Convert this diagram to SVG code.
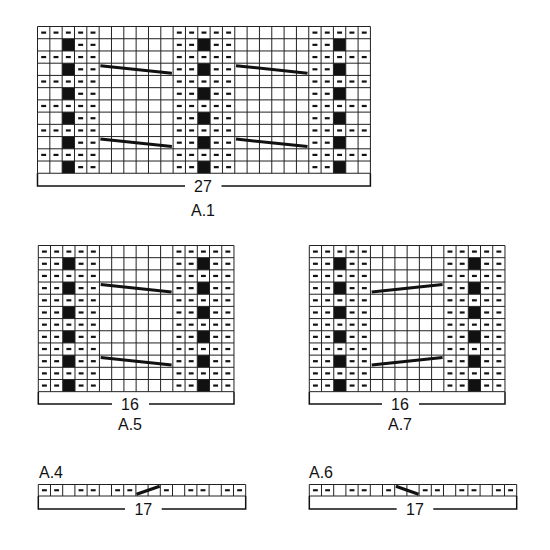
<svg xmlns="http://www.w3.org/2000/svg" width="550" height="550" viewBox="0 0 550 550">
<style>
.g{fill:none;stroke:#222;stroke-width:1}
.c{stroke:#111;stroke-width:3;stroke-linecap:butt}
.b{fill:none;stroke:#111;stroke-width:1.5}
text{font-family:"Liberation Sans",Arial,sans-serif;font-size:16px;fill:#111}
.m{text-anchor:middle}
</style>
<defs>
<rect id="d" x="0.3" y="0.41" width="0.4" height="0.18" fill="#111"/>
<rect id="k" width="1" height="1" fill="#111"/>
<g id="p5"><use href="#d"/><use href="#d" x="1"/><use href="#d" x="2"/><use href="#d" x="3"/><use href="#d" x="4"/></g>
<g id="pm"><use href="#d"/><use href="#d" x="1"/><use href="#k" x="2"/><use href="#d" x="3"/><use href="#d" x="4"/></g>
<g id="r1d"><use href="#p5"/><use href="#p5" x="11"/><use href="#p5" x="22"/></g>
<g id="r1b"><use href="#k" x="2"/><use href="#d" x="3"/><use href="#d" x="4"/><use href="#pm" x="11"/><use href="#d" x="22"/><use href="#d" x="23"/><use href="#k" x="24"/></g>
<g id="r5d"><use href="#p5"/><use href="#p5" x="11"/></g>
<g id="r5b"><use href="#pm"/><use href="#pm" x="11"/></g>
<path id="g27" class="g" vector-effect="non-scaling-stroke" d="M0 0V12M1 0V12M2 0V12M3 0V12M4 0V12M5 0V12M6 0V12M7 0V12M8 0V12M9 0V12M10 0V12M11 0V12M12 0V12M13 0V12M14 0V12M15 0V12M16 0V12M17 0V12M18 0V12M19 0V12M20 0V12M21 0V12M22 0V12M23 0V12M24 0V12M25 0V12M26 0V12M27 0V12M0 0H27M0 1H27M0 2H27M0 3H27M0 4H27M0 5H27M0 6H27M0 7H27M0 8H27M0 9H27M0 10H27M0 11H27M0 12H27"/>
<path id="g16" class="g" vector-effect="non-scaling-stroke" d="M0 0V12M1 0V12M2 0V12M3 0V12M4 0V12M5 0V12M6 0V12M7 0V12M8 0V12M9 0V12M10 0V12M11 0V12M12 0V12M13 0V12M14 0V12M15 0V12M16 0V12M0 0H16M0 1H16M0 2H16M0 3H16M0 4H16M0 5H16M0 6H16M0 7H16M0 8H16M0 9H16M0 10H16M0 11H16M0 12H16"/>
<path id="g17" class="g" vector-effect="non-scaling-stroke" d="M0 0V1M1 0V1M2 0V1M3 0V1M4 0V1M5 0V1M6 0V1M7 0V1M8 0V1M9 0V1M10 0V1M11 0V1M12 0V1M13 0V1M14 0V1M15 0V1M16 0V1M17 0V1M0 0H17M0 1H17"/>
</defs>
<rect width="550" height="550" fill="#fff"/>

<g id="A1">
<g transform="translate(37.5,26.5) scale(12.33,12.23)">
<use href="#r1d" y="0"/><use href="#r1d" y="2"/><use href="#r1d" y="4"/><use href="#r1d" y="6"/><use href="#r1d" y="8"/><use href="#r1d" y="10"/>
<use href="#r1b" y="1"/><use href="#r1b" y="3"/><use href="#r1b" y="5"/><use href="#r1b" y="7"/><use href="#r1b" y="9"/><use href="#r1b" y="11"/>
<use href="#g27"/>
<line class="c" vector-effect="non-scaling-stroke" x1="5.1" y1="3.2" x2="10.9" y2="3.82"/>
<line class="c" vector-effect="non-scaling-stroke" x1="16.1" y1="3.2" x2="21.9" y2="3.82"/>
<line class="c" vector-effect="non-scaling-stroke" x1="5.1" y1="9.2" x2="10.9" y2="9.82"/>
<line class="c" vector-effect="non-scaling-stroke" x1="16.1" y1="9.2" x2="21.9" y2="9.82"/>
</g>
<path class="b" d="M37.5 173.3V186H185M221.5 186H370.4V173.3"/>
<text class="m" x="203" y="191.7">27</text>
<text class="m" x="203" y="216">A.1</text>
</g>

<g id="A5">
<g transform="translate(38.3,245.5) scale(12.23,12.18)">
<use href="#r5d" y="0"/><use href="#r5d" y="2"/><use href="#r5d" y="4"/><use href="#r5d" y="6"/><use href="#r5d" y="8"/><use href="#r5d" y="10"/>
<use href="#r5b" y="1"/><use href="#r5b" y="3"/><use href="#r5b" y="5"/><use href="#r5b" y="7"/><use href="#r5b" y="9"/><use href="#r5b" y="11"/>
<use href="#g16"/>
<line class="c" vector-effect="non-scaling-stroke" x1="5.1" y1="3.2" x2="10.9" y2="3.82"/>
<line class="c" vector-effect="non-scaling-stroke" x1="5.1" y1="9.2" x2="10.9" y2="9.82"/>
</g>
<path class="b" d="M38.3 391.7V404H112M149 404H234V391.7"/>
<text class="m" x="130" y="409.7">16</text>
<text class="m" x="130" y="430">A.5</text>
</g>

<g id="A7">
<g transform="translate(309.3,245.5) scale(12.23,12.18)">
<use href="#r5d" y="0"/><use href="#r5d" y="2"/><use href="#r5d" y="4"/><use href="#r5d" y="6"/><use href="#r5d" y="8"/><use href="#r5d" y="10"/>
<use href="#r5b" y="1"/><use href="#r5b" y="3"/><use href="#r5b" y="5"/><use href="#r5b" y="7"/><use href="#r5b" y="9"/><use href="#r5b" y="11"/>
<use href="#g16"/>
<line class="c" vector-effect="non-scaling-stroke" x1="5.1" y1="3.82" x2="10.9" y2="3.2"/>
<line class="c" vector-effect="non-scaling-stroke" x1="5.1" y1="9.82" x2="10.9" y2="9.2"/>
</g>
<path class="b" d="M309.3 391.7V404H382M419 404H505V391.7"/>
<text class="m" x="400" y="409.7">16</text>
<text class="m" x="400" y="430">A.7</text>
</g>

<g id="A4">
<text x="39" y="478">A.4</text>
<g transform="translate(38.3,484.5) scale(12.2,11.5)">
<use href="#d" x="0"/><use href="#d" x="1"/><use href="#d" x="3"/><use href="#d" x="4"/><use href="#d" x="6"/><use href="#d" x="7"/><use href="#d" x="10"/><use href="#d" x="12"/><use href="#d" x="13"/><use href="#d" x="15"/><use href="#d" x="16"/>
<use href="#g17"/>
<line class="c" vector-effect="non-scaling-stroke" x1="8.05" y1="0.85" x2="9.95" y2="0.15"/>
</g>
<path class="b" d="M38.3 496V509H125M161.7 509H245.7V496"/>
<text class="m" x="143.3" y="514.7">17</text>
</g>

<g id="A6">
<text x="309" y="478">A.6</text>
<g transform="translate(309.3,484.5) scale(12.2,11.5)">
<use href="#d" x="0"/><use href="#d" x="1"/><use href="#d" x="3"/><use href="#d" x="4"/><use href="#d" x="6"/><use href="#d" x="9"/><use href="#d" x="10"/><use href="#d" x="12"/><use href="#d" x="13"/><use href="#d" x="15"/><use href="#d" x="16"/>
<use href="#g17"/>
<line class="c" vector-effect="non-scaling-stroke" x1="7.1" y1="0.15" x2="8.95" y2="0.85"/>
</g>
<path class="b" d="M309.3 496V509H396.7M433.3 509H516.7V496"/>
<text class="m" x="415" y="514.7">17</text>
</g>
</svg>
